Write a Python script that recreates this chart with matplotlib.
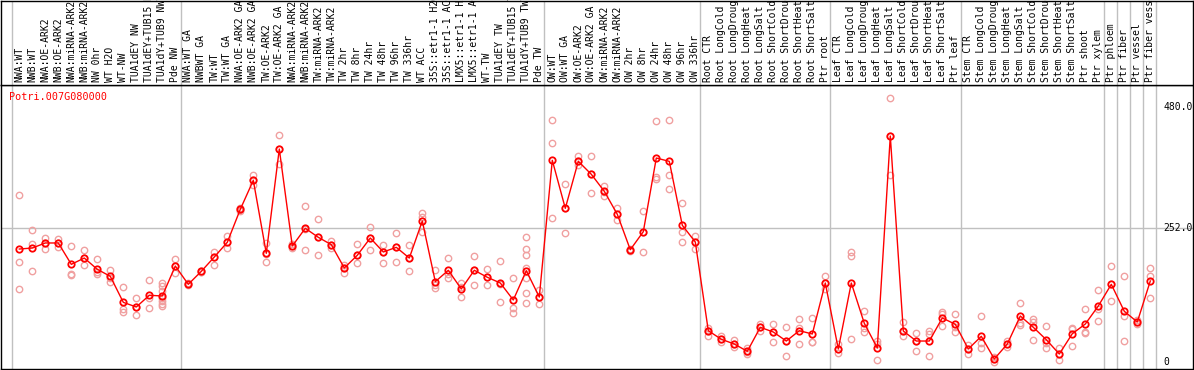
import matplotlib
matplotlib.use("Agg")
import matplotlib.pyplot as plt
import matplotlib.transforms as mtransforms

gene = "Potri.007G080000"

samples = [
    "NWA:WT", "NWB:WT", "NWA:OE-ARK2", "NWB:OE-ARK2", "NWA:miRNA-ARK2",
    "NWB:miRNA-ARK2", "NW 0hr", "WT H2O", "WT-NW", "TUA1dEY NW",
    "TUA1dEY+TUB15 NW", "TUA1dY+TUB9 NW", "Pde NW",
    "NWA:WT GA", "NWBWT GA", "TW:WT", "TW:WT GA", "NWA:OE-ARK2 GA",
    "NWB:OE-ARK2 GA", "TW:OE-ARK2", "TW:OE-ARK2 GA", "NWA:miRNA-ARK2",
    "NWB:miRNA-ARK2", "TW:miRNA-ARK2", "TW:miRNA-ARK2", "TW 2hr", "TW 8hr",
    "TW 24hr", "TW 48hr", "TW 96hr", "TW 336hr", "WT ACC",
    "35S::etr1-1 H2O", "35S::etr1-1 ACC", "LMX5::etr1-1 H2O",
    "LMX5::etr1-1 ACC", "WT-TW", "TUA1dEY TW", "TUA1dEY+TUB15 TW",
    "TUA1dY+TUB9 TW", "Pde TW",
    "OW:WT", "OW:WT GA", "OW:OE-ARK2", "OW:OE-ARK2 GA", "OW:miRNA-ARK2",
    "OW:miRNA-ARK2", "OW 2hr", "OW 8hr", "OW 24hr", "OW 48hr", "OW 96hr",
    "OW 336hr",
    "Root CTR", "Root LongCold", "Root LongDrought", "Root LongHeat",
    "Root LongSalt", "Root ShortCold", "Root ShortDrought", "Root ShortHeat",
    "Root ShortSalt", "Ptr root",
    "Leaf CTR", "Leaf LongCold", "Leaf LongDrought", "Leaf LongHeat",
    "Leaf LongSalt", "Leaf ShortCold", "Leaf ShortDrought", "Leaf ShortHeat",
    "Leaf ShortSalt", "Ptr leaf",
    "Stem CTR", "Stem LongCold", "Stem LongDrought", "Stem LongHeat",
    "Stem LongSalt", "Stem ShortCold", "Stem ShortDrought", "Stem ShortHeat",
    "Stem ShortSalt", "Ptr shoot", "Ptr xylem",
    "Ptr phloem", "Ptr fiber", "Ptr vessel", "Ptr fiber vessel",
]

# index of first sample of each block (grey separators)
group_starts = [0, 13, 41, 53, 63, 73, 84, 85, 86, 87, 88]

means = [
    212.6, 214.5, 224, 224, 183.7, 195.6, 174.3, 161.1, 112, 103.2,
    125.3, 124, 180.5, 146, 170.5, 197.5, 225.3, 287.5, 342.2, 204.5,
    401.3, 218.3, 251.7, 234.7, 220.8, 176.8, 200.8, 233.4, 207, 215.8,
    195.6, 265.5, 151, 172.5, 137.2, 172.5, 159.3, 148.5, 116.4, 171.7,
    122, 380, 289.4, 378.1, 353.6, 321.5, 278.1, 211.3, 245.3, 384.3,
    378, 257.4, 225.8, 58.5, 42.3, 33.4, 19.6, 64.9, 56, 39,
    58.5, 52.3, 148.5, 24, 148.5, 72.5, 25.8, 425.8, 57.9, 39,
    39, 82.5, 70.6, 24, 47.9, 5.1, 33.4, 86.2, 64.9, 41.5,
    14.5, 52.8, 71.1, 105.1, 146, 95.1, 74.9, 152.3,
]

replicates = [
    [314, 187.5, 136.6], [248, 222.6, 170.6], [232.8, 224, 212],
    [231, 224, 216], [217.7, 166, 164], [211.4, 195, 181.8],
    [193.7, 169.2, 165.5], [173, 158.5, 151], [140.9, 98.9, 94.4],
    [119.6, 102.6, 88.1], [153.6, 119.6, 100.8],
    [149, 143.4, 133.4, 119.6, 114.6, 109.6, 104.5],
    [193.7, 180.5, 166.8], [148, 146, 144], [172, 170, 169],
    [207.5, 197, 181.8], [237.2, 225, 214], [290, 287, 285],
    [352.2, 342, 333.4], [223.4, 204, 187.5], [427.2, 401, 373.6],
    [221.4, 218, 214], [293.8, 251, 210.2], [268.7, 234.7, 200.8],
    [228, 220, 214], [181.8, 177, 168], [221.4, 200.8, 185.7],
    [253.6, 233.4, 210.8], [220.2, 207, 185.7], [242.3, 216, 188.1],
    [219.6, 196, 170.6], [280, 273.6, 245.3], [172.5, 144.7, 138.5],
    [195.6, 165.5, 158.5], [148.5, 141, 121.5], [198.9, 172.5, 144.2],
    [175, 159, 144.2], [190, 146, 112], [157.4, 100.8, 91.3],
    [234.7, 212.6, 200.8, 177.4, 157, 129, 110.2],
    [135.3, 122, 108.9], [456, 412, 270.6], [334.7, 290, 242.8],
    [388, 378, 371], [388, 355, 317.7], [331, 321, 312.6],
    [289.4, 278, 267.4], [213, 211, 209], [284.3, 245.3, 206.4],
    [453.6, 349, 344.2], [456, 351.7, 325.3], [298.9, 245.3, 225.3],
    [237.2, 226, 213.2], [64.2, 58.5, 49], [49, 42, 36.6],
    [40.4, 33, 28.3], [25.3, 19, 15.1], [70.6, 65, 58.5],
    [71.1, 56, 36.6], [65.5, 39, 10.8], [80.5, 63, 32.8],
    [83, 37, 37], [161.1, 148, 137.2], [32.8, 24, 15.8],
    [207.5, 198.9, 42.3], [95.1, 64.2, 56.6], [39, 33.4, 2.6],
    [497, 426, 351.7], [74.9, 58, 47.9], [53.6, 39, 20.2],
    [57.9, 52.3, 10.8], [93.2, 89.4, 67.4], [90.6, 64.6, 56.6],
    [30.9, 24, 14.5], [86.2, 34.7, 25.3], [9.4, 5, 0],
    [39, 33, 28.3], [110.2, 72.5, 69.2], [80, 75.5, 40.4],
    [66.8, 35.8, 25.3], [25.8, 14.5, 2.6], [64.2, 61.7, 29],
    [98.9, 56.6, 53.6], [135.3, 99.4, 76.2], [180, 146, 114],
    [161.1, 86.8, 38.5], [78.7, 75, 70.6], [176.8, 161.7, 120.8],
]

ytick_vals = [480, 252, 0]
ytick_text = ["480.0", "252.0", "0"]
grid_value = 252

mono = "DejaVu Sans Mono"
grey = "#c0c0c0"
W, H = 1194, 370

fig = plt.figure(figsize=(W / 100, H / 100), dpi=100)
fig.patch.set_facecolor("white")

left, width = 1 / W, 1192 / W
ax = fig.add_axes([left, 1 / H, width, 284 / H])
top = fig.add_axes([left, 285 / H, width, 84.5 / H], sharex=ax)

xlim = ((1 - 19.3) / 13, (1193 - 19.3) / 13)
ax.set_xlim(*xlim)
ax.set_ylim((361.7 - 369) / 0.53, (361.7 - 85) / 0.53)
top.set_ylim(0, 1)

for a in (ax, top):
    a.set_xticks([])
    a.set_yticks([])
    for s in a.spines.values():
        s.set_linewidth(1.0)
        s.set_color("black")
    for g in group_starts:
        a.axvline(g - 0.6, color=grey, lw=1.0, zorder=0)

ax.axhline(grid_value, color=grey, lw=1.0, zorder=0)

# sample labels
tr = mtransforms.blended_transform_factory(top.transData, top.transAxes)
for i, name in enumerate(samples):
    top.text(i, 0.03, name, rotation=90, ha="center", va="bottom",
             family=mono, fontsize=7, color="black", transform=tr,
             clip_on=False)

# replicate points
for i, reps in enumerate(replicates):
    ax.plot([i] * len(reps), reps, linestyle="none", marker="o",
            markersize=4.6, markerfacecolor="none",
            markeredgecolor="#f0a0a0", markeredgewidth=1.0, zorder=2)

# mean line
ax.plot(range(len(means)), means, color="#ff0000", lw=1.0, marker="o",
        markersize=4.6, markerfacecolor="none", markeredgecolor="#ff0000",
        markeredgewidth=1.3, zorder=3)

# right-hand value labels
ty = mtransforms.blended_transform_factory(ax.transAxes, ax.transData)
for v, t in zip(ytick_vals, ytick_text):
    ax.text((1163 - 1) / 1192, v, t, ha="left", va="center", family=mono,
            fontsize=7, color="black", transform=ty)

ax.text(8 / 1192, 1 - 12 / 284, gene, ha="left", va="center", family=mono,
        fontsize=7.3, color="#ff0000", transform=ax.transAxes)

fig.savefig("out.png", dpi=100)
